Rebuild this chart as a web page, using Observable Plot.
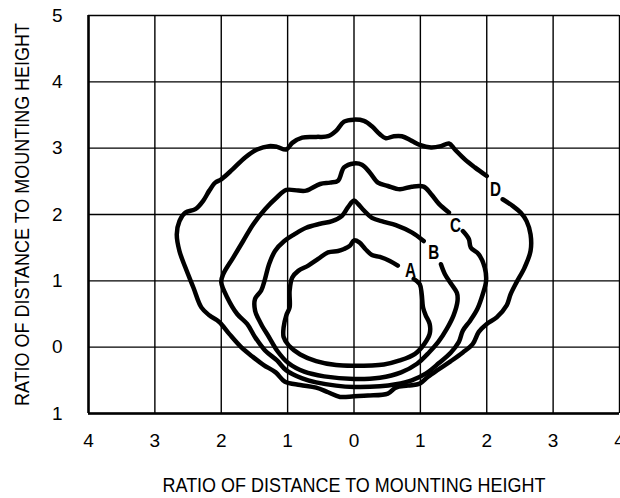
<!DOCTYPE html>
<html>
<head>
<meta charset="utf-8">
<script src="https://cdn.jsdelivr.net/npm/d3@7"></script>
<script src="https://cdn.jsdelivr.net/npm/@observablehq/plot@0.6"></script>
<style>
  html, body { margin: 0; padding: 0; background: #fff; }
</style>
</head>
<body>
<div id="chart"></div>
<script>
const xTicks = [-4, -3, -2, -1, 0, 1, 2, 3, 4];
const yTicks = [-1, 0, 1, 2, 3, 4, 5];
const axisTitle = "RATIO OF DISTANCE TO MOUNTING HEIGHT";

const curveA = [[0.66,1.23],[0.54,1.30],[0.39,1.36],[0.27,1.39],[0.17,1.48],[0.08,1.58],[0,1.61],[-0.06,1.53],[-0.15,1.48],[-0.24,1.45],[-0.39,1.43],[-0.54,1.33],[-0.69,1.23],[-0.84,1.15],[-0.93,1.05],[-0.97,0.85],[-0.97,0.60],[-1.02,0.48],[-1.06,0.30],[-1.06,0.15],[-0.98,0.02],[-0.81,-0.11],[-0.57,-0.21],[-0.27,-0.27],[0,-0.28],[0.45,-0.26],[0.69,-0.20],[0.92,-0.10],[1.06,0.05],[1.14,0.20],[1.14,0.35],[1.08,0.48],[1.04,0.60],[1.02,0.80],[0.99,0.95],[0.90,1.03]];

const curveB = [[1.05,1.60],[0.87,1.73],[0.63,1.84],[0.45,1.89],[0.27,1.95],[0.15,2.06],[0.06,2.16],[0,2.21],[-0.09,2.11],[-0.18,1.98],[-0.33,1.90],[-0.51,1.86],[-0.72,1.80],[-0.90,1.70],[-1.05,1.60],[-1.19,1.45],[-1.28,1.25],[-1.34,1.03],[-1.40,0.85],[-1.49,0.73],[-1.49,0.55],[-1.40,0.35],[-1.28,0.15],[-1.16,-0.05],[-0.99,-0.24],[-0.75,-0.37],[-0.45,-0.44],[0,-0.48],[0.39,-0.46],[0.71,-0.38],[0.95,-0.25],[1.13,-0.08],[1.27,0.08],[1.40,0.28],[1.50,0.48],[1.56,0.70],[1.55,0.82],[1.46,0.96],[1.37,1.10],[1.31,1.25]];

const curveC = [[1.43,2.03],[1.28,2.16],[1.16,2.31],[1.05,2.42],[0.87,2.42],[0.69,2.38],[0.51,2.43],[0.36,2.48],[0.24,2.63],[0.12,2.75],[0,2.77],[-0.15,2.71],[-0.24,2.51],[-0.36,2.48],[-0.51,2.46],[-0.72,2.36],[-0.84,2.36],[-1.02,2.37],[-1.16,2.26],[-1.34,2.08],[-1.52,1.85],[-1.67,1.60],[-1.82,1.35],[-1.97,1.10],[-2.0,0.98],[-1.91,0.75],[-1.76,0.50],[-1.61,0.35],[-1.49,0.15],[-1.34,-0.05],[-1.16,-0.20],[-1.02,-0.35],[-0.78,-0.47],[-0.57,-0.53],[-0.27,-0.58],[0,-0.60],[0.39,-0.59],[0.63,-0.56],[0.87,-0.50],[1.08,-0.40],[1.28,-0.24],[1.46,-0.08],[1.58,0.08],[1.64,0.25],[1.75,0.40],[1.86,0.58],[1.94,0.80],[1.99,1.00],[1.97,1.20],[1.88,1.40],[1.76,1.50],[1.73,1.63],[1.64,1.75]];

const curveD = [[2.0,2.58],[1.82,2.71],[1.67,2.83],[1.52,2.98],[1.43,3.07],[1.31,3.03],[1.16,3.01],[0.99,3.05],[0.87,3.11],[0.72,3.18],[0.60,3.18],[0.48,3.15],[0.39,3.21],[0.27,3.33],[0.15,3.41],[0,3.43],[-0.15,3.40],[-0.27,3.26],[-0.39,3.18],[-0.57,3.17],[-0.78,3.16],[-0.93,3.08],[-1.02,2.98],[-1.16,3.02],[-1.28,3.03],[-1.46,2.98],[-1.64,2.86],[-1.83,2.68],[-2.0,2.53],[-2.09,2.48],[-2.18,2.36],[-2.27,2.21],[-2.39,2.08],[-2.54,2.03],[-2.63,1.90],[-2.67,1.70],[-2.63,1.45],[-2.54,1.20],[-2.42,0.90],[-2.30,0.60],[-2.18,0.48],[-2.03,0.38],[-1.88,0.20],[-1.70,0.0],[-1.52,-0.15],[-1.36,-0.27],[-1.18,-0.38],[-1.04,-0.52],[-0.81,-0.57],[-0.57,-0.61],[-0.39,-0.68],[-0.21,-0.75],[0,-0.74],[0.21,-0.73],[0.51,-0.70],[0.63,-0.61],[0.81,-0.58],[0.99,-0.55],[1.11,-0.45],[1.25,-0.35],[1.46,-0.21],[1.64,-0.08],[1.79,0.05],[1.88,0.23],[2.0,0.35],[2.15,0.45],[2.30,0.63],[2.36,0.80],[2.45,0.98],[2.57,1.20],[2.66,1.45],[2.66,1.70],[2.60,1.90],[2.51,2.03],[2.39,2.13],[2.24,2.23]];

const curveNames = ["A", "B", "C", "D"];
const labelX = [0.85, 1.20, 1.53, 2.13];
const labelY = [1.16, 1.42, 1.84, 2.37];

const font = "'Liberation Sans', Arial, Helvetica, sans-serif";
const curves = [curveA, curveB, curveC, curveD];
const labels = curveNames.map((n, i) => ({name: n, x: labelX[i], y: labelY[i]}));

const lineStyle = {x: d => d[0], y: d => d[1], stroke: "black", strokeWidth: 4.5, curve: "catmull-rom", strokeLinejoin: "round"};

const chart = Plot.plot({
  width: 620,
  height: 498,
  marginLeft: 88,
  marginRight: 1,
  marginTop: 15,
  marginBottom: 85,
  style: {fontFamily: font, fontSize: "19px", color: "black", background: "white"},
  x: {domain: [-4, 4], ticks: xTicks, tickFormat: d => Math.abs(d), tickSize: 0, tickPadding: 20, label: null},
  y: {domain: [-1, 5], ticks: yTicks, tickFormat: d => Math.abs(d), tickSize: 0, tickPadding: 26, label: null},
  marks: [
    Plot.ruleX(xTicks, {stroke: "black", strokeWidth: 1.4}),
    Plot.ruleY(yTicks, {stroke: "black", strokeWidth: 1.4}),
    Plot.ruleX([-4], {stroke: "black", strokeWidth: 2.5}),
    Plot.ruleY([-1], {stroke: "black", strokeWidth: 2.5}),
    ...curves.map(c => Plot.line(c, lineStyle)),
    Plot.text(labels, {x: "x", y: "y", text: "name", fontSize: 20, fontWeight: "bold", fill: "black"}),
    Plot.text([axisTitle], {frameAnchor: "bottom", dy: 78, text: d => d, fontSize: 21, fill: "black"}),
    Plot.text([axisTitle], {frameAnchor: "left", textAnchor: "middle", dx: -66, rotate: -90, text: d => d, fontSize: 21, fill: "black"})
  ]
});
document.getElementById("chart").appendChild(chart);

// tick labels: larger, matching the reference
d3.select(chart).selectAll('g[aria-label*="axis"]')
  .attr("font-size", 19).style("font-size", "19px");
d3.select(chart).selectAll('g[aria-label*="axis"] text')
  .attr("font-size", 19).style("font-size", "19px");

// compress title glyphs to match the condensed typeface of the reference
d3.select(chart).selectAll("text")
  .filter(function () { return this.textContent === axisTitle; })
  .attr("textLength", 383)
  .attr("lengthAdjust", "spacingAndGlyphs");
d3.select(chart).selectAll("text")
  .filter(function () { return curveNames.includes(this.textContent); })
  .attr("textLength", 11)
  .attr("lengthAdjust", "spacingAndGlyphs");
</script>
</body>
</html>
